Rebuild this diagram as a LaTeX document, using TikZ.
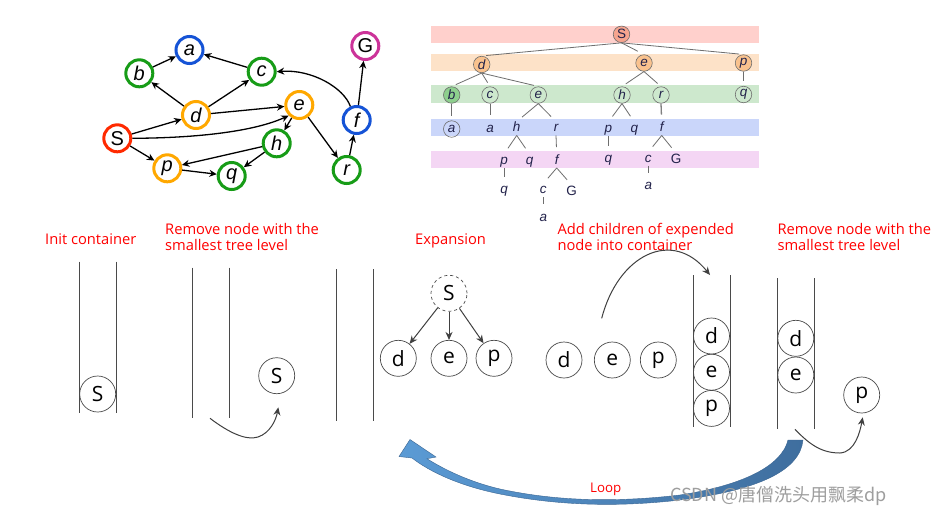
\documentclass[tikz,border=0pt]{standalone}
\usepackage{fontspec}
\setmainfont{Open Sans}
\newfontfamily\arialf{Liberation Sans}
\newfontfamily\cjkf{Noto Sans CJK SC}
\usetikzlibrary{arrows.meta}
\definecolor{gred}{HTML}{FF2A00}
\definecolor{gblue}{HTML}{1553D6}
\definecolor{ggreen}{HTML}{179C17}
\definecolor{gorange}{HTML}{FFA800}
\definecolor{gmag}{HTML}{CC3399}
\definecolor{bandS}{HTML}{FFD0CC}
\definecolor{bandO}{HTML}{FDE2C8}
\definecolor{bandG}{HTML}{CDE8CD}
\definecolor{bandB}{HTML}{CAD6FA}
\definecolor{bandP}{HTML}{F4D6F4}
\definecolor{tfS}{HTML}{F6A48E}
\definecolor{tfO}{HTML}{F9C28E}
\definecolor{tfG}{HTML}{8DCF8D}
\definecolor{tink}{HTML}{22224A}
\definecolor{tgray}{HTML}{6E6E6E}
\definecolor{bgray}{HTML}{4A4A4A}
\definecolor{agray}{HTML}{404040}
\definecolor{loopL}{HTML}{5B9BD5}
\definecolor{loopR}{HTML}{3F6E9E}
\definecolor{loopD}{HTML}{3A6592}
\tikzset{
  gnode/.style={circle, draw, line width=3pt, fill=white, minimum size=27pt, inner sep=0pt, font=\arialf\itshape\fontsize{20}{20}\selectfont},
  gup/.style={font=\arialf\fontsize{20}{20}\selectfont},
  gedge/.style={line width=1.3pt, -{Stealth[length=7.5pt,width=7pt]}},
  tnode/.style={circle, draw=tgray, line width=0.6pt, minimum size=16.5pt, inner sep=0pt, font=\arialf\itshape\fontsize{13.5}{13.5}\selectfont, text=tink},
  tlab/.style={inner sep=0.5pt, text height=9.5pt, text depth=3pt, font=\arialf\itshape\fontsize{13.5}{13.5}\selectfont, text=tink},
  tup/.style={font=\arialf\fontsize{13.5}{13.5}\selectfont},
  tcline/.style={draw=tgray, line width=0.8pt, shorten >=4.5pt},
  tlline/.style={draw=tgray, line width=0.8pt, shorten >=7pt},
  bnode/.style={circle, draw=bgray, line width=0.7pt, minimum size=36pt, inner sep=0pt, font=\fontsize{21}{21}\selectfont},
  wall/.style={draw=bgray, line width=0.9pt},
  garrow/.style={draw=agray, line width=1pt, -{Stealth[length=8pt,width=7pt]}},
  redlbl/.style={text=red, font=\fontsize{14.7}{16.7}\selectfont, align=left, inner sep=0pt},
}
\begin{document}
\begin{tikzpicture}[x=1pt,y=-1pt]
\useasboundingbox (0,0) rectangle (941,515);
\fill[white] (0,0) rectangle (941,515);

% ---------------- graph ----------------
\node[gnode, draw=gblue] (a) at (189.5,50) {a};
\node[gnode, draw=ggreen] (b) at (139.3,73.3) {b};
\node[gnode, draw=ggreen] (c) at (261.7,71.7) {c};
\node[gnode, draw=gorange] (d) at (196,115) {d};
\node[gnode, draw=gorange] (e) at (299.3,105) {e};
\node[gnode, draw=gred, gup] (S) at (117.3,138.3) {S};
\node[gnode, draw=ggreen] (h) at (276.7,143.3) {h};
\node[gnode, draw=gorange] (p) at (167.3,168.3) {p};
\node[gnode, draw=ggreen] (q) at (231.7,176) {q};
\node[gnode, draw=ggreen] (r) at (346.7,170) {r};
\node[gnode, draw=gblue] (f) at (356.7,120) {f};
\node[gnode, draw=gmag, gup] (G) at (365.3,46) {G};

\draw[gedge] (b) -- (a);
\draw[gedge] (c) -- (a);
\draw[gedge] (d) -- (b);
\draw[gedge] (d) -- (c);
\draw[gedge] (d) -- (e);
\draw[gedge] (S) -- (d);
\draw[gedge] (S) -- (p);
\draw[gedge] (S.east) .. controls (200,138) and (255,131) .. (e.south west);
\draw[gedge] (e) -- (h);
\draw[gedge] (e) -- (r);
\draw[gedge] (h) -- (p);
\draw[gedge] (h) -- (q);
\draw[gedge] (p) -- (q);
\draw[gedge] (r) -- (f);
\draw[gedge] (f) -- (G);
\draw[gedge] (f.115) .. controls (344,88) and (312,69) .. (c.east);

% ---------------- tree ----------------
\fill[bandS] (431,26) rectangle (759,42.7);
\fill[bandO] (431,54) rectangle (759,70.5);
\fill[bandG] (431,85) rectangle (759,102.7);
\fill[bandB] (431,119.3) rectangle (759,136);
\fill[bandP] (431,151) rectangle (759,167.7);

\node[tnode, fill=tfS, tup] (tS) at (621.5,34.3) {S};
\node[tnode, fill=tfO] (td) at (481.7,64.5) {d};
\node[tnode, fill=tfO] (te1) at (644,63) {e};
\node[tnode, fill=tfO] (tp1) at (743.5,63) {p};
\node[tnode, fill=tfG] (tb) at (451.7,95) {b};
\node[tnode] (tc) at (490,95) {c};
\node[tnode] (te2) at (538.3,95) {e};
\node[tnode] (th1) at (622,95) {h};
\node[tnode] (tr1) at (661,95) {r};
\node[tnode] (tq1) at (743.5,94.5) {q};
\node[tnode] (ta1) at (451.7,129) {a};
\node[tlab] (ta2) at (490,129) {a};
\node[tlab] (th2) at (516.7,128.5) {h};
\node[tlab] (tr2) at (556,128.5) {r};
\node[tlab] (tp2) at (608.3,129) {p};
\node[tlab] (tq2) at (634.3,129) {q};
\node[tlab] (tf1) at (661.7,128.5) {f};
\node[tlab] (tp3) at (504,161) {p};
\node[tlab] (tq3) at (529.5,161) {q};
\node[tlab] (tf2) at (556.7,161) {f};
\node[tlab] (tq4) at (608.3,159.5) {q};
\node[tlab] (tc1) at (648.3,159) {c};
\node[tlab, tup] (tG1) at (676,160) {G};
\node[tlab] (tq5) at (504,190.5) {q};
\node[tlab] (tc2) at (543.3,190.5) {c};
\node[tlab, tup] (tG2) at (571.7,192) {G};
\node[tlab] (ta3) at (648.3,186.7) {a};
\node[tlab] (ta4) at (543.3,218.3) {a};

\draw[tcline] (tS.south) -- (td.north);
\draw[tcline, shorten >=7pt] (tS.south) -- (te1.north);
\draw[tcline] (tS.south) -- (tp1.north);
\draw[tcline] (td.south) -- (tb.north);
\draw[tcline] (td.south) -- (tc.north);
\draw[tcline] (td.south) -- (te2.north);
\draw[tcline] (te1.south) -- (th1.north);
\draw[tcline] (te1.south) -- (tr1.north);
\draw[tcline] (tp1.south) -- (tq1.north);
\draw[tcline] (tb.south) -- (ta1.north);
\draw[tlline] (tc.south) -- (ta2.north);
\draw[tlline] (te2.south) -- (th2.north);
\draw[tlline] (te2.south) -- (tr2.north);
\draw[tlline] (th1.south) -- (tp2.north);
\draw[tlline] (th1.south) -- (tq2.north);
\draw[tlline, line width=1.3pt, draw=gray] (tr1.south) -- (tf1.north);
\draw[tlline] (th2.south) -- (tp3.north);
\draw[tlline] (th2.south) -- (tq3.north);
\draw[tlline] (tr2.south) -- (tf2.north);
\draw[tlline] (tp2.south) -- (tq4.north);
\draw[tlline] (tf1.south) -- (tc1.north);
\draw[tlline] (tf1.south) -- (tG1.north);
\draw[tlline] (tp3.south) -- (tq5.north);
\draw[tlline] (tf2.south) -- (tc2.north);
\draw[tlline] (tf2.south) -- (tG2.north);
\draw[tlline] (tc1.south) -- (ta3.north);
\draw[tlline] (tc2.south) -- (ta4.north);

% ---------------- labels ----------------
\node[redlbl, anchor=base west] (l1) at (45,244) {Init container};
\node[redlbl, anchor=north west] (l2) at (165,222.8) {Remove node with the\\smallest tree level};
\node[redlbl, anchor=base west] (l3) at (415,244) {Expansion};
\node[redlbl, anchor=north west] (l4) at (557.3,222.8) {Add children of expended\\node into container};
\node[redlbl, anchor=north west] (l5) at (777.3,222.8) {Remove node with the\\smallest tree level};

% ---------------- containers ----------------
\draw[wall] (79.3,261.7) -- (79.3,412.7);
\draw[wall] (116,261.7) -- (116,412.7);
\node[bnode] (c1S) at (97.7,394) {S};

\draw[wall] (192.7,267.7) -- (192.7,418.3);
\draw[wall] (229,267.7) -- (229,418.3);
\node[bnode] (c2S) at (276.7,375.7) {S};
\coordinate (r1a) at (210,418.3);
\coordinate (r1b) at (278.3,407.3);
\draw[garrow] (r1a) .. controls (228,432) and (246,441) .. (258,437) .. controls (270,433) and (276,420) .. (r1b);

\draw[wall] (336.7,269.3) -- (336.7,420.7);
\draw[wall] (373.3,269.3) -- (373.3,420.7);
\node[bnode, dashed] (exS) at (449,293.3) {S};
\node[bnode] (exd) at (398.3,358.3) {d};
\node[bnode] (exe) at (449,358.3) {e};
\node[bnode] (exp) at (494,358.3) {p};
\draw[garrow] (exS) -- (exd);
\draw[garrow] (exS) -- (exe);
\draw[garrow] (exS) -- (exp);

\node[bnode] (ad) at (564,360) {d};
\node[bnode] (ae) at (612.3,360) {e};
\node[bnode] (ap) at (658.3,360) {p};
\coordinate (r2a) at (601.7,318.3);
\coordinate (r2b) at (710,275);
\draw[garrow] (r2a) .. controls (618,255) and (672,228) .. (r2b);

\draw[wall] (693.3,275) -- (693.3,426.7);
\draw[wall] (730,275) -- (730,426.7);
\node[bnode] (k4d) at (711.5,336) {d};
\node[bnode] (k4e) at (711.5,372.2) {e};
\node[bnode] (k4p) at (711.5,408.4) {p};

\draw[wall] (777.7,278.3) -- (777.7,429.3);
\draw[wall] (814,278.3) -- (814,429.3);
\node[bnode] (k5d) at (795.8,338.3) {d};
\node[bnode] (k5e) at (795.8,375) {e};
\node[bnode] (k5p) at (861.7,395) {p};
\coordinate (r3a) at (795,429.3);
\coordinate (r3b) at (862.7,417.3);
\draw[garrow] (r3a) .. controls (810,445) and (822,453) .. (840,453) .. controls (855,452) and (860,432) .. (r3b);

% ---------------- loop arrow ----------------
\shadedraw[left color=loopL, right color=loopR, draw=loopD, line width=0.4pt]
 (803,440) .. controls (800,470) and (760,490) .. (680,500)
 .. controls (620,507) and (560,506) .. (500,494)
 .. controls (460,486) and (430,472) .. (412,458)
 -- (399,456.5) -- (410,439.5) -- (436,457) -- (427,458.7)
 .. controls (445,470) and (470,482) .. (500,489)
 .. controls (560,502) and (620,502) .. (680,495)
 .. controls (745,485) and (782,465) .. (788,440) -- cycle;
\node[text=red, font=\fontsize{13.3}{13.3}\selectfont, anchor=base west, inner sep=0pt] (loop) at (590,492) {Loop};

\node[text=black!38, font=\cjkf\fontsize{18}{18}\selectfont, anchor=base west, inner sep=0pt] (wm) at (670,501.5) {CSDN @唐僧洗头用飘柔dp};
\end{tikzpicture}
\end{document}
